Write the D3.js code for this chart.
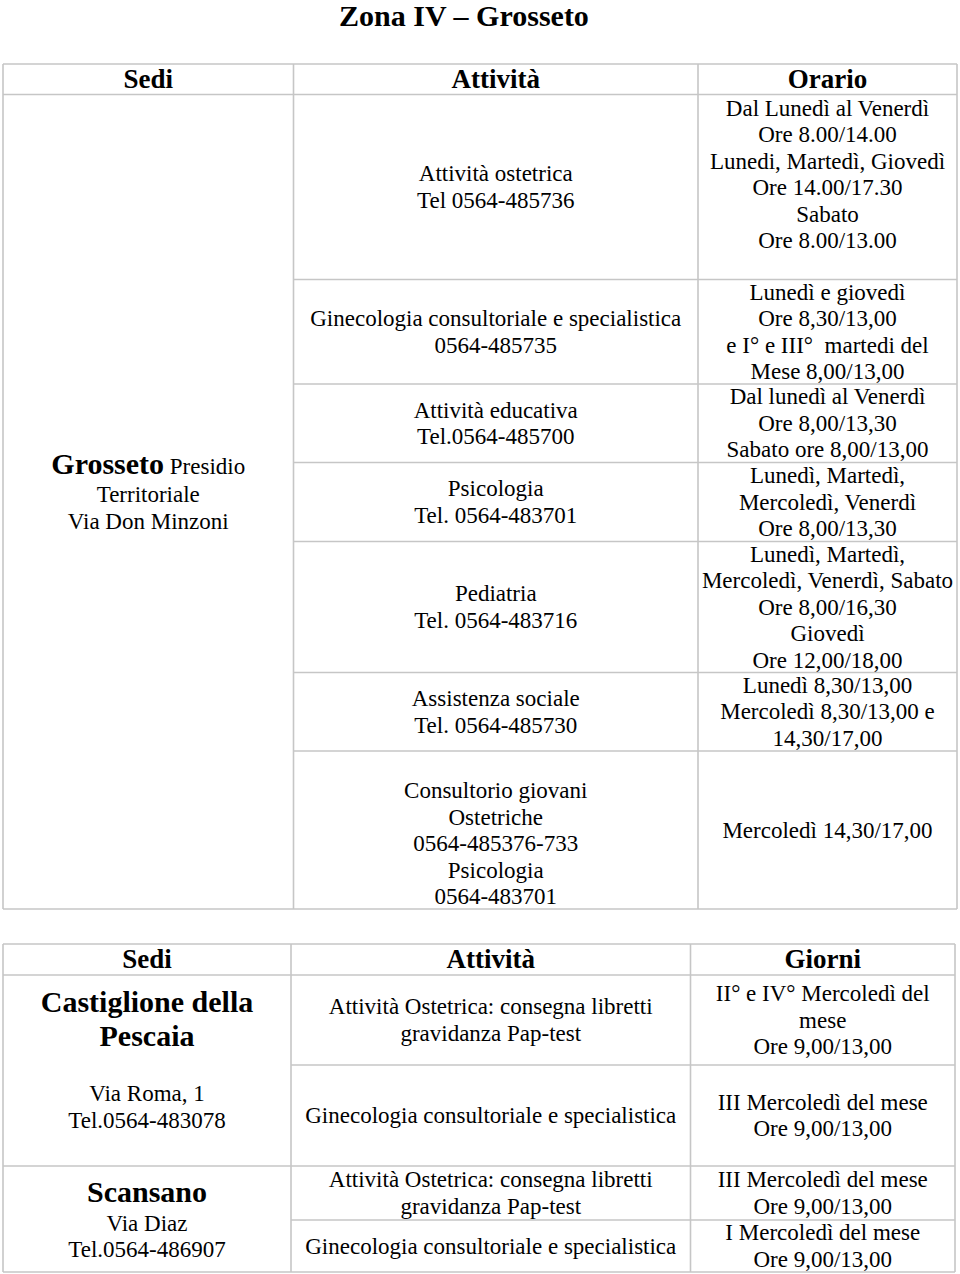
<!DOCTYPE html>
<html><head><meta charset="utf-8">
<script src="https://cdn.jsdelivr.net/npm/d3@7"></script>
<style>
body{margin:0;background:#fff}
svg text{font-family:"Liberation Serif","Times New Roman",serif;white-space:pre;fill:#000}
</style>
</head><body><svg id="c" width="960" height="1274"></svg>
<script>
// ---------- data ----------
const title = "Zona IV – Grosseto";
const headers1 = ["Sedi","Attività","Orario"];
const sedi1 = [["**Grosseto** Presidio","Territoriale","Via Don Minzoni"]];
const attivita1 = [
 ["Attività ostetrica","Tel 0564-485736"],
 ["Ginecologia consultoriale e specialistica","0564-485735"],
 ["Attività educativa","Tel.0564-485700"],
 ["Psicologia","Tel. 0564-483701"],
 ["Pediatria","Tel. 0564-483716"],
 ["Assistenza sociale","Tel. 0564-485730"],
 ["Consultorio giovani","Ostetriche","0564-485376-733","Psicologia","0564-483701"]
];
const orario1 = [
 ["Dal Lunedì al Venerdì","Ore 8.00/14.00","Lunedi, Martedì, Giovedì","Ore 14.00/17.30","Sabato","Ore 8.00/13.00"],
 ["Lunedì e giovedì","Ore 8,30/13,00","e I° e III°  martedi del","Mese 8,00/13,00"],
 ["Dal lunedì al Venerdì","Ore 8,00/13,30","Sabato ore 8,00/13,00"],
 ["Lunedì, Martedì,","Mercoledì, Venerdì","Ore 8,00/13,30"],
 ["Lunedì, Martedì,","Mercoledì, Venerdì, Sabato","Ore 8,00/16,30","Giovedì","Ore 12,00/18,00"],
 ["Lunedì 8,30/13,00","Mercoledì 8,30/13,00 e","14,30/17,00"],
 ["Mercoledì 14,30/17,00"]
];
const headers2 = ["Sedi","Attività","Giorni"];
const sedi2 = [
 ["**Castiglione della**","**Pescaia**","","Via Roma, 1","Tel.0564-483078"],
 ["**Scansano**","Via Diaz","Tel.0564-486907"]
];
const attivita2 = [
 ["Attività Ostetrica: consegna libretti","gravidanza Pap-test"],
 ["Ginecologia consultoriale e specialistica"],
 ["Attività Ostetrica: consegna libretti","gravidanza Pap-test"],
 ["Ginecologia consultoriale e specialistica"]
];
const giorni2 = [
 ["II° e IV° Mercoledì del","mese","Ore 9,00/13,00"],
 ["III Mercoledì del mese","Ore 9,00/13,00"],
 ["III Mercoledì del mese","Ore 9,00/13,00"],
 ["I Mercoledì del mese","Ore 9,00/13,00"]
];

// ---------- layout ----------
const FS = 23, FSB = 30, LH = 26.5, LHB = 34.5, FSH = 27;
const LINE = "#c6c6c6", LW = 1.6;
const svg = d3.select("#c");

svg.append("text").attr("x",464).attr("y",26)
  .attr("text-anchor","middle").attr("font-size",30).attr("font-weight","bold").text(title);

function parse(s){
  const parts = s.split(/\*\*(.*?)\*\*/);
  const out = [];
  parts.forEach((p,i)=>{ if(p!=="") out.push({t:p,b:i%2===1}); });
  return out;
}
function cell(g, lines, x, y0, y1, nudge){
  const segs = lines.map(parse);
  const hs = segs.map(s => s.some(d=>d.b) ? LHB : LH);
  const total = d3.sum(hs);
  let top = (y0+y1)/2 - total/2 + (nudge||0);
  segs.forEach((s,i)=>{
    const cy = top + hs[i]/2; top += hs[i];
    if(!s.length) return;
    const big = s.some(d=>d.b) ? FSB : FS;
    const t = g.append("text").attr("x",x).attr("y",cy+0.33*big).attr("text-anchor","middle");
    t.selectAll("tspan").data(s).join("tspan")
      .attr("font-size",d=>d.b?FSB:FS).attr("font-weight",d=>d.b?"bold":"normal").text(d=>d.t);
  });
}
function hline(g,x0,x1,y){ g.append("line").attr("x1",x0).attr("x2",x1).attr("y1",y).attr("y2",y).attr("stroke",LINE).attr("stroke-width",LW); }
function vline(g,x,y0,y1){ g.append("line").attr("x1",x).attr("x2",x).attr("y1",y0).attr("y2",y1).attr("stroke",LINE).attr("stroke-width",LW); }

function table(cfg){
  const g = svg.append("g");
  const cx = d3.range(3).map(i => (cfg.cols[i]+cfg.cols[i+1])/2);
  const L = cfg.cols[0], R = cfg.cols[3];
  hline(g,L,R,cfg.top); hline(g,L,R,cfg.head); hline(g,L,R,cfg.bottom);
  vline(g,L,cfg.top,cfg.bottom); vline(g,R,cfg.top,cfg.bottom);
  vline(g,cfg.cols[1],cfg.top,cfg.bottom); vline(g,cfg.cols[2],cfg.top,cfg.bottom);
  cfg.rows.slice(1,-1).forEach(y=>{
    const full = cfg.groups.some(gr=>gr[0]===y);
    hline(g, full?L:cfg.cols[1], R, y);
  });
  cfg.headers.forEach((h,i)=>{
    g.append("text").attr("x",cx[i]).attr("y",(cfg.top+cfg.head)/2+0.33*FSH)
      .attr("text-anchor","middle").attr("font-size",FSH).attr("font-weight","bold").text(h);
  });
  cfg.sedi.forEach((s,i)=> cell(g,s,cx[0],cfg.groups[i][0],cfg.groups[i][1],cfg.nudgeS[i]));
  cfg.att.forEach((s,i)=> cell(g,s,cx[1],cfg.rows[i],cfg.rows[i+1],cfg.nudgeA[i]));
  cfg.ora.forEach((s,i)=> cell(g,s,cx[2],cfg.rows[i],cfg.rows[i+1],cfg.nudgeO[i]));
}

table({
  cols:[3,293.5,698,957], top:64, head:94.5, bottom:909,
  rows:[94.5,279.5,384,462.5,541.5,672.5,751,909],
  groups:[[94.5,909]],
  headers:headers1, sedi:sedi1, att:attivita1, ora:orario1,
  nudgeS:[-11], nudgeA:[0,0,0,0,0,0,13.5], nudgeO:[-12.5,0,0,0,0,0,0]
});
table({
  cols:[3,291,690.5,955], top:944, head:975, bottom:1272,
  rows:[975,1065,1166,1220,1272],
  groups:[[975,1166],[1166,1272]],
  headers:headers2, sedi:sedi2, att:attivita2, ora:giorni2,
  nudgeS:[-11.5,0], nudgeA:[0,0,0,0], nudgeO:[0,0,0,0]
});
</script></body></html>
